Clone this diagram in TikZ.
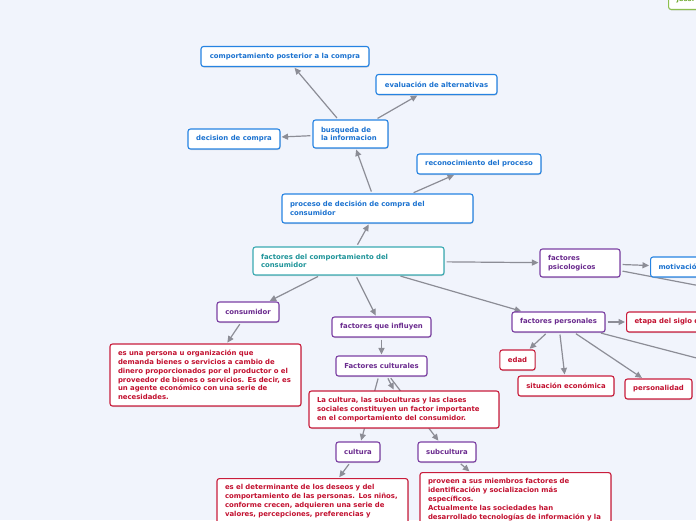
\documentclass[tikz,border=0pt]{standalone}
\usepackage{fontspec}
\setmainfont{DejaVu Sans}
\usetikzlibrary{arrows.meta,shadows}
\definecolor{canvas}{HTML}{F1F4FC}
\definecolor{procblue}{HTML}{2683E2}
\definecolor{proctext}{HTML}{1B72D0}
\definecolor{rootteal}{HTML}{3AAAB2}
\definecolor{roottext}{HTML}{1E9499}
\definecolor{factpurple}{HTML}{7B3FA3}
\definecolor{facttext}{HTML}{6A2A8E}
\definecolor{descred}{HTML}{C91D3C}
\definecolor{desctext}{HTML}{C2102F}
\definecolor{linkgray}{HTML}{8C8D96}
\definecolor{namegreen}{HTML}{8DBF4F}
\definecolor{nametext}{HTML}{6FA92E}
\tikzset{
  >={Triangle[length=6.5pt,width=6pt]},
  every node/.style={font=\fontsize{6.9}{8.8}\selectfont\bfseries},
}
\pgfdeclarelayer{back}
\pgfdeclarelayer{links}
\pgfsetlayers{back,links,main}

\begin{document}
\begin{tikzpicture}[
  x=1pt,y=-1pt,
  topic/.style={draw, fill=white, rounded corners=2.5pt, line width=1.1pt,
    inner xsep=8pt, inner ysep=3pt, minimum height=20pt,
    drop shadow={shadow xshift=0.6pt,shadow yshift=-1pt,fill=black!35,opacity=.45}},
  proc/.style={topic, draw=procblue, text=proctext},
  root/.style={topic, draw=rootteal, text=roottext},
  fact/.style={topic, draw=factpurple, text=facttext},
  desc/.style={topic, draw=descred, text=desctext},
  namebox/.style={topic, draw=namegreen, text=nametext},
  link/.style={->, color=linkgray, line width=1.2pt, shorten <=2pt, shorten >=1pt}
]
\useasboundingbox (0,0) rectangle (696,520);
\begin{pgfonlayer}{back}
\fill[canvas] (0,0) rectangle (696,520);
\end{pgfonlayer}
\clip (0,0) rectangle (696,520);

% centre and buying process
\node[root, text width=175pt, align=left, minimum height=28pt] (factors) at (348.5,261) {factores del comportamiento del\\consumidor};
\node[proc, text width=175pt, align=left, minimum height=29pt] (process) at (377.5,208.5) {proceso de decisión de compra del\\consumidor};
\node[proc, text width=59pt, align=left, minimum height=28pt] (infosearch) at (350.5,134) {busqueda de\\la informacion};
\node[proc, minimum width=168pt] (postbuy) at (285,56.5) {comportamiento posterior a la compra};
\node[proc, minimum width=121pt] (evalalt) at (436.5,84.5) {evaluación de alternativas};
\node[proc, minimum width=92pt] (decide) at (234,139) {decision de compra};
\node[proc, minimum width=124pt] (recognize) at (479,164) {reconocimiento del proceso};
\node[namebox, anchor=south west, text width=60pt, align=left] (author) at (668,10) {jessi};

% consumidor
\node[fact, minimum width=62pt] (consumer) at (248,312) {consumidor};
\node[desc, text width=175pt, align=left, minimum height=62pt] (consumerdef) at (205.5,375) {es una persona u organización que\\demanda bienes o servicios a cambio de\\dinero proporcionados por el productor o el\\proveedor de bienes o servicios. Es decir, es\\un agente económico con una serie de\\necesidades.};

% factores que influyen
\node[fact, minimum width=99pt] (influence) at (381.5,327) {factores que influyen};
\node[fact, minimum width=91pt] (culture) at (381.5,366) {Factores culturales};
\node[desc, text width=174pt, align=left, minimum height=37pt] (culturedef) at (404,409.5) {La cultura, las subculturas y las clases\\sociales constituyen un factor importante\\en el comportamiento del consumidor.};
\node[fact, minimum width=44pt] (cult) at (358,452) {cultura};
\node[fact, minimum width=58pt] (subcult) at (447,452) {subcultura};
\node[desc, anchor=north, text width=175pt, align=left, inner ysep=6pt, text depth=52pt] (cultdef) at (312.5,478) {es el determinante de los deseos y del\\comportamiento de las personas. Los niños,\\conforme crecen, adquieren una serie de\\valores, percepciones, preferencias y};
\node[desc, anchor=north, text width=175pt, align=left, inner ysep=6pt, text depth=60pt] (subcultdef) at (515.5,472) {proveen a sus miembros factores de\\identificación y socializacion más\\específicos.\\Actualmente las sociedades han\\desarrollado tecnologías de información y la};

% factores psicologicos y personales
\node[fact, text width=64pt, align=left, minimum height=28pt] (psych) at (580,263) {factores\\psicologicos};
\node[proc, anchor=west, text width=64pt, align=left] (motive) at (650,267) {motivación};
\coordinate (psychout) at (800,305);
\node[fact, minimum width=93pt] (personal) at (558.5,322) {factores personales};
\node[desc, anchor=west] (lifestage) at (626,322) {etapa del siglo de vida};
\node[desc, minimum width=35pt] (age) at (517.5,360) {edad};
\node[desc, minimum width=96pt] (income) at (566,386) {situación económica};
\node[desc, minimum width=67pt] (personality) at (658.5,389) {personalidad};
\coordinate (personalout) at (800,385);

\begin{pgfonlayer}{links}
\clip (0,0) rectangle (696,520);
\path[link]
(factors) edge (process)
(process) edge (infosearch)
(process) edge (recognize)
(infosearch) edge (postbuy)
(infosearch) edge (evalalt)
(infosearch) edge (decide)
(factors) edge (consumer)
(consumer) edge (consumerdef)
(factors) edge (influence)
(influence) edge (culture)
(culture) edge (culturedef)
(culture) edge (cult)
(culture) edge (subcult)
(cult) edge (cultdef)
(subcult) edge (subcultdef)
(factors) edge (psych)
(psych) edge (motive)
(psych) edge (psychout)
(factors) edge (personal)
(personal) edge (lifestage)
(personal) edge (age)
(personal) edge (income)
(personal) edge (personality)
(personal) edge (personalout);
\end{pgfonlayer}
\end{tikzpicture}
\end{document}
